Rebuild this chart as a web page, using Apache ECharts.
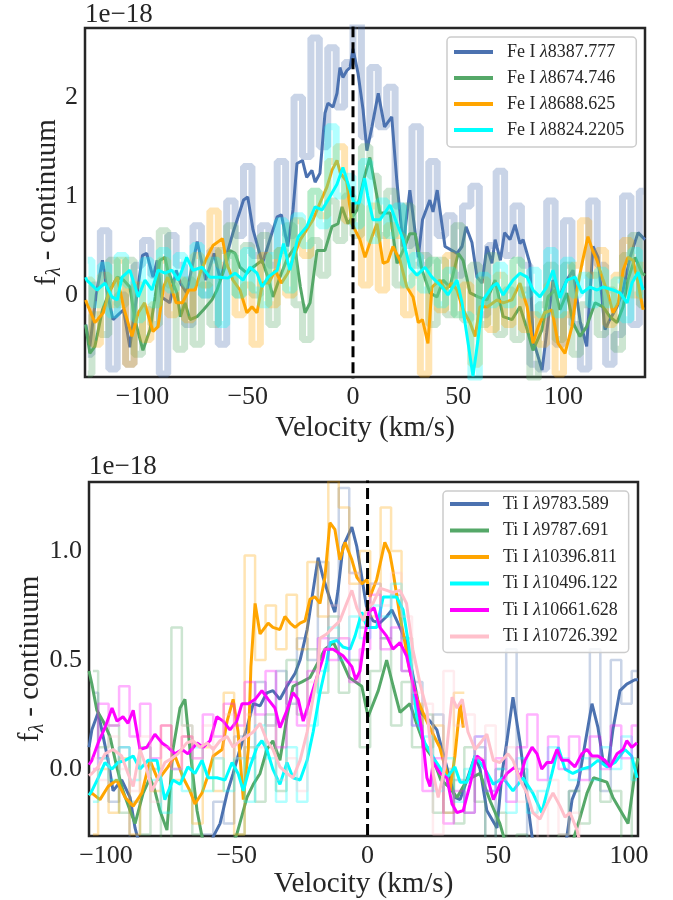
<!DOCTYPE html>
<html><head><meta charset="utf-8">
<script src="https://cdn.jsdelivr.net/npm/echarts@6/dist/echarts.min.js"></script>
<style>html,body{margin:0;padding:0;background:#fff}#c{width:673px;height:900px}</style>
</head><body><div id="c"></div>
<script>
// ---------- TOP PANEL (Fe I) ----------
const topNames = ['Fe I λ8387.777','Fe I λ8674.746','Fe I λ8688.625','Fe I λ8824.2205'];
const topColors = ['#4C72B0','#55A868','#FFA500','#00FFFF'];
const topXTicks = [-100,-50,0,50,100];
const topYTicks = [0,1,2];
const topRawV = [-126,-122,-118,-114,-110,-106,-102,-98,-94,-90,-86,-82,-78,-74,-70,-66,-62,-58,-54,-50,-46,-42,-38,-34,-30,-26,-22,-18,-14,-10,-6,-2,2,6,10,14,18,22,26,30,34,38,42,46,50,54,58,62,66,70,74,78,82,86,90,94,98,102,106,110,114,118,122,126,130,134,138];
const feBlueRaw = [-0.6,0.1,0.65,-0.75,0.0,-0.7,0.3,0.55,0.2,-0.8,0.6,0.3,-0.3,0.7,0.0,0.45,-0.5,0.95,0.6,1.3,0.4,0.7,0.3,1.35,0.6,2.0,1.4,2.6,1.5,2.5,1.9,2.35,2.75,1.6,2.3,1.7,2.1,0.9,0.5,1.7,0.3,1.35,0.6,0.8,0.2,0.9,1.1,-0.2,0.5,1.25,0.4,0.9,0.3,-0.7,-0.75,0.95,-0.5,0.75,-0.3,-0.75,0.95,0.3,-0.7,-0.4,1.0,-0.3,1.05];
const feGreenRaw = [-0.8,-0.2,-0.4,0.35,-0.1,0.35,-0.6,-0.15,-0.3,0.65,0.1,-0.55,0.15,-0.5,0.1,-0.3,0.45,0.7,0.0,0.5,0.0,0.6,-0.3,0.45,0.7,-0.1,-0.45,0.55,0.2,0.95,0.55,1.0,0.6,1.5,1.2,0.6,1.05,0.1,0.9,0.3,0.4,-0.3,0.35,-0.2,0.7,-0.25,0.3,-0.3,0.4,-0.4,0.05,-0.45,0.05,-0.85,-0.1,0.3,-0.45,0.3,-0.6,-0.1,0.2,-0.4,0.05,-0.55,0.4,0.6,-0.1];
const feOrangeRaw = [0.15,-0.5,0.2,-0.1,0.35,-0.7,0.1,-0.45,-0.1,0.35,-0.2,0.15,-0.25,0.4,0.1,0.85,0.3,0.4,-0.2,0.1,-0.5,0.4,-0.1,0.45,0.0,0.75,0.4,1.05,0.8,1.35,1.5,0.75,0.9,0.1,0.9,0.05,0.7,0.6,-0.2,0.2,-0.8,0.35,-0.15,0.4,-0.2,0.1,-0.7,0.15,-0.35,0.2,-0.3,0.35,-0.35,-0.2,-0.5,0.1,-0.8,-0.2,0.3,0.75,0.2,0.45,-0.3,0.2,0.55,0.0,0.3];
const feCyanRaw = [0.35,-0.1,0.3,-0.2,0.4,0.1,-0.25,0.35,-0.1,0.45,0.05,0.4,0.1,0.5,0.0,0.35,-0.3,0.4,0.0,0.45,0.05,-0.1,0.4,0.75,0.05,0.8,0.5,1.05,0.7,1.7,1.0,1.2,0.7,1.35,0.55,0.95,0.6,0.9,0.1,0.4,0.05,0.35,-0.1,0.25,-0.2,-0.2,-0.85,0.2,-0.1,0.3,-0.1,0.35,0.0,0.25,-0.2,0.45,-0.2,0.35,0.0,0.2,-0.1,0.25,-0.1,0.15,-0.25,0.45,0.0];
const feBlueSmooth = [[-127,-0.3],[-125,-0.52],[-122,0.0],[-119,0.35],[-116.5,0.0],[-114,-0.25],[-111.5,-0.2],[-109,-0.15],[-106,-0.53],[-103,-0.05],[-100,0.4],[-98,0.42],[-95,0.18],[-93,0.35],[-91,-0.02],[-87,-0.08],[-84,0.25],[-82,0.12],[-79,0.02],[-74,0.54],[-70,0.15],[-66,0.42],[-63,0.15],[-59,0.48],[-57,0.63],[-52,0.96],[-50,0.99],[-47.5,0.66],[-43,0.32],[-39.5,0.56],[-36,0.79],[-34,0.81],[-31,0.49],[-28.5,0.86],[-26.6,1.33],[-24,1.36],[-22,1.19],[-19.5,1.26],[-18,1.14],[-15.7,1.23],[-13.3,1.84],[-11.9,1.94],[-9.5,1.9],[-7.6,2.04],[-6.2,2.3],[-4.8,2.2],[-2.9,2.27],[-1.4,2.3],[0,2.49],[2.4,2.24],[4.8,1.87],[6.6,1.46],[9,1.7],[12,2.04],[15,1.7],[18.4,1.8],[20.8,1.16],[23.8,0.49],[27,1.06],[31,0.38],[33,0.76],[36.5,0.96],[38,0.84],[40,1.06],[43.7,0.49],[49.4,0.42],[51.8,0.49],[53.7,0.69],[56.5,0.53],[58.9,0.18],[61.3,0.12],[63.6,0.49],[66,0.32],[67.5,0.56],[70,0.35],[72,0.63],[74.6,0.56],[77,0.71],[79.3,0.52],[80.8,0.56],[84,0.32],[85.5,-0.45],[89.8,-0.76],[92,-0.38],[95,0.15],[98,-0.02],[101.6,0.15],[104.5,0.25],[108,-0.28],[111,-0.52],[114,0.49],[116.4,0.38],[119.7,-0.35],[122,-0.25],[125.4,-0.12],[128.3,0.05],[131.6,0.38],[135.4,0.63],[138.7,0.56]];
const feGreenSmooth = [[-127,-0.3],[-125,-0.59],[-122.6,-0.52],[-119,-0.15],[-115.4,0.05],[-112,0.18],[-109,0.15],[-106,0.08],[-103.6,-0.25],[-99.8,-0.56],[-96.4,-0.35],[-94,-0.02],[-91.7,0.35],[-89.3,0.38],[-88,0.25],[-83.6,0.02],[-82,-0.22],[-79.8,-0.08],[-77.4,-0.25],[-74.1,-0.22],[-71,-0.15],[-67,-0.05],[-64.6,0.05],[-61.8,0.22],[-58.4,0.45],[-56,0.42],[-53.7,0.28],[-50.4,0.22],[-47.5,0.28],[-43.2,0.35],[-40.4,0.18],[-38,-0.02],[-34.7,0.18],[-31,0.38],[-27.6,0.48],[-25,0.08],[-22.8,-0.18],[-20.4,-0.08],[-17.1,0.45],[-13.3,0.45],[-10,0.69],[-7.1,0.72],[-5.2,0.89],[-2.4,0.72],[1.9,0.86],[3.3,1.0],[5.5,1.2],[8,1.39],[10,1.16],[12.8,0.83],[17.6,0.83],[20.9,0.32],[23.8,0.45],[27,0.62],[29.5,0.62],[32.8,0.25],[36.6,0.02],[39.9,-0.02],[42.8,0.15],[46,0.08],[50,0.42],[52.3,0.35],[55.6,0.02],[59.4,-0.02],[63.6,-0.05],[67.5,0.15],[71.3,-0.22],[75.5,-0.25],[79.3,-0.12],[82.7,-0.35],[85.5,-0.56],[89.8,-0.35],[92.6,-0.02],[96,0.05],[98.3,-0.15],[101.6,0.02],[104.5,-0.28],[107.8,-0.42],[111,-0.32],[115,-0.08],[118.8,-0.12],[122,-0.22],[125.4,-0.28],[128.3,-0.12],[130.6,0.15],[134,0.38],[137.3,0.22],[138.7,0.2]];
const feOrangeSmooth = [[-127,-0.05],[-126.5,-0.08],[-122.6,-0.28],[-118.6,-0.18],[-116,0.02],[-112,0.18],[-109,-0.12],[-105,-0.42],[-102,-0.18],[-99,-0.08],[-95,-0.37],[-92.6,-0.32],[-90,0.08],[-88,0.18],[-84,-0.08],[-81,-0.08],[-78,0.05],[-75,0.05],[-72.6,0.22],[-69.4,0.38],[-66.5,0.5],[-62,0.57],[-60,0.32],[-57,0.15],[-53.7,0.05],[-50.4,-0.18],[-48,-0.12],[-45.6,-0.18],[-43,0.12],[-40,0.12],[-37,0.25],[-34,0.12],[-31,0.22],[-27.6,0.42],[-25,0.56],[-22,0.66],[-19,0.76],[-15.7,0.93],[-12.4,1.09],[-10,1.26],[-7.6,1.36],[-6,1.23],[-3,1.15],[-0.5,0.72],[3.3,0.56],[5.7,0.38],[9,0.59],[11.4,0.72],[14.3,0.32],[16.6,0.34],[19,0.49],[22.3,0.35],[25.6,0.08],[28.5,-0.02],[31,-0.28],[33,-0.25],[35.6,-0.49],[37.5,0.08],[41.3,0.15],[43.7,0.05],[47,0.12],[49.4,0.05],[52.3,-0.15],[55.6,-0.28],[58,-0.42],[60.3,-0.12],[64,-0.12],[68.4,-0.05],[71.3,-0.08],[75.5,-0.05],[79.3,0.12],[82.7,-0.12],[85.5,-0.49],[88,-0.32],[91,-0.18],[94.5,-0.15],[97.4,-0.49],[100.7,-0.59],[104,-0.32],[106.4,0.05],[108.8,0.32],[111.6,0.59],[114,0.44],[115.9,0.35],[118.8,0.15],[121,0.02],[123.5,-0.18],[126,-0.08],[128.3,0.25],[130.6,0.38],[133,0.35],[135.4,0.12],[137.8,-0.15]];
const feCyanSmooth = [[-127,0.18],[-126.5,0.15],[-121.6,0.05],[-117.8,0.12],[-114.5,-0.02],[-112,-0.05],[-109.7,0.18],[-106,0.25],[-102,-0.02],[-98.8,0.15],[-95.5,0.05],[-92.6,0.25],[-89.3,0.22],[-86,0.25],[-83,0.15],[-79,0.38],[-76,0.25],[-71.7,0.28],[-68,0.18],[-63,0.18],[-59.4,0.17],[-56,0.22],[-52.2,0.15],[-49,0.28],[-45.6,0.22],[-43.2,0.08],[-40.4,0.18],[-36,0.25],[-33,0.52],[-30,0.25],[-26,0.59],[-22,0.69],[-18,0.89],[-14.7,0.86],[-11.9,0.96],[-7.6,1.12],[-4.8,1.29],[-1.4,1.06],[0.5,0.93],[3,0.93],[5.5,1.18],[7,1.0],[9.5,0.76],[12.8,0.76],[17.6,0.91],[20.9,0.72],[23.8,0.56],[27,0.28],[30.4,0.2],[34.2,0.28],[37.5,0.18],[42.3,0.08],[45.1,0.0],[49.4,0.15],[51.8,-0.08],[54.2,-0.42],[57,-0.82],[59.4,-0.45],[61.8,-0.05],[66,0.08],[68.4,0.12],[71.3,0.0],[76,0.15],[79.3,0.22],[82.7,0.18],[85.5,0.05],[88.8,-0.02],[92,0.08],[95,0.25],[98.3,-0.03],[101.6,0.15],[105.5,0.18],[108.8,0.02],[112.6,0.08],[115.9,0.05],[118.8,0.08],[123.5,0.05],[126.8,0.02],[130.2,-0.08],[132.5,0.12],[135.4,0.23],[137.8,0.05]];

// ---------- BOTTOM PANEL (Ti I) ----------
const botNames = ['Ti I λ9783.589','Ti I λ9787.691','Ti I λ10396.811','Ti I λ10496.122','Ti I λ10661.628','Ti I λ10726.392'];
const botColors = ['#4C72B0','#55A868','#FFA500','#00FFFF','#FF00FF','#FFC0CB'];
const botXTicks = [-100,-50,0,50,100];
const botYTicks = [0,0.5,1.0];
const botRawV = [-105,-101,-97,-93,-89,-85,-81,-77,-73,-69,-65,-61,-57,-53,-49,-45,-41,-37,-33,-29,-25,-21,-17,-13,-9,-5,-1,3,7,11,15,19,23,27,31,35,39,43,47,51,55,59,63,67,71,75,79,83,87,91,95,99,103];
const tiBlueRaw = [0.35,0.05,-0.15,0.1,-0.35,-0.45,-0.6,-0.4,-0.5,-0.6,-0.45,-0.3,-0.15,-0.25,0.15,0.05,0.4,0.2,0.45,0.3,0.6,0.5,0.95,0.6,1.29,0.9,0.65,0.85,0.6,0.8,0.45,0.4,0.1,0.25,-0.2,-0.05,-0.2,0.1,-0.35,0.0,0.55,0.0,-0.4,-0.55,-0.6,-0.4,-0.1,0.0,0.55,-0.1,0.5,0.3,0.45];
const tiGreenRaw = [0.45,0.1,0.2,-0.2,-0.15,-0.3,0.0,-0.35,0.65,0.2,-0.3,-0.5,-0.4,-0.6,-0.3,0.1,-0.15,0.25,-0.1,0.5,0.25,0.55,0.35,0.7,0.35,0.5,0.1,0.45,0.6,0.2,0.4,0.1,0.25,-0.2,0.0,-0.25,0.1,-0.15,-0.35,-0.2,-0.5,-0.3,-0.6,-0.4,-0.45,-0.3,-0.1,-0.25,0.05,-0.15,-0.1,-0.35,0.05];
const tiOrangeRaw = [-0.3,0.0,-0.2,0.05,-0.3,0.1,-0.1,0.2,-0.05,0.15,-0.25,0.1,-0.1,0.35,-0.3,0.98,0.5,0.75,0.55,0.8,0.55,0.95,0.7,1.32,1.2,0.85,1.0,0.7,1.2,1.0,0.6,0.3,0.1,0.2,-0.2,0.35,null,null,null,null,null,null,null,null,null,null,null,null,null,null,null,null,null];
const tiCyanRaw = [-0.15,0.05,-0.05,0.1,-0.05,0.1,-0.05,-0.2,0.0,-0.1,0.1,-0.1,0.05,-0.1,0.05,-0.15,0.2,0.05,-0.15,0.1,-0.15,0.2,0.45,0.65,0.5,0.7,0.6,0.75,0.7,0.85,0.6,0.2,0.15,-0.1,0.05,-0.15,0.0,0.15,-0.1,0.0,-0.2,0.05,-0.2,-0.1,0.1,0.05,-0.05,0.05,-0.05,0.1,0.0,0.15,-0.05];
const tiMagentaRaw = [0.0,0.3,0.2,0.38,0.15,0.3,0.05,0.2,0.0,0.15,0.05,0.25,0.15,0.3,0.2,0.4,0.25,0.45,0.1,0.4,0.2,0.45,0.6,0.5,0.6,0.4,0.55,0.8,0.55,0.65,0.45,0.2,-0.1,0.05,-0.25,-0.1,-0.2,0.15,-0.1,0.05,-0.15,0.1,0.25,-0.05,0.15,0.0,0.15,-0.05,0.15,0.0,0.2,0.05,0.2];
const tiPinkRaw = [0.05,-0.05,0.15,0.0,-0.1,0.15,-0.15,0.1,0.0,0.2,0.05,0.2,0.05,0.25,0.05,0.25,0.1,0.2,-0.05,0.05,-0.1,0.4,0.55,0.75,0.6,0.9,0.7,0.85,0.75,0.9,0.7,0.35,0.3,-0.3,0.45,0.2,0.25,0.05,0.2,-0.05,0.1,-0.15,-0.1,-0.35,-0.05,-0.3,-0.2,-0.45,null,null,null,null,null];
const tiBlueSmooth = [[-106.5,0.1],[-105.4,0.18],[-103,0.26],[-101.1,0.15],[-99.2,0.04],[-97.3,-0.1],[-94,-0.05],[-90.8,-0.13],[-88.9,-0.27],[-86,-0.4],[-80,-0.45],[-72,-0.5],[-65,-0.45],[-61,-0.38],[-59,-0.31],[-56.4,-0.25],[-53.7,-0.11],[-51.4,-0.02],[-48.8,0.09],[-46.1,0.19],[-43.7,0.3],[-41.1,0.29],[-38.5,0.35],[-36.2,0.36],[-33.5,0.32],[-30.8,0.38],[-27.7,0.44],[-25.8,0.5],[-23.1,0.64],[-20.8,0.82],[-18.9,0.97],[-17,0.88],[-14.4,0.78],[-12.5,0.72],[-11.3,0.82],[-9.4,1.02],[-6,1.11],[-4.1,1.02],[-2.2,0.88],[-0.2,0.73],[2.1,0.68],[4.7,0.67],[7.3,0.7],[9.3,0.73],[12.4,0.65],[14.9,0.58],[17.5,0.42],[20.1,0.26],[23.9,0.22],[26.5,0.18],[29.6,0.04],[33.4,-0.13],[35.4,-0.14],[38,-0.05],[41.1,0.06],[43,0.0],[45.6,-0.19],[49.5,-0.27],[51.4,-0.02],[53.3,0.13],[55.6,0.33],[58.3,0.12],[60.9,-0.13],[62.9,-0.31],[66,-0.45],[70,-0.5],[74,-0.4],[76.2,-0.31],[78.2,-0.14],[80.5,-0.07],[83.2,0.12],[85.8,0.3],[88.1,0.19],[90,0.04],[91.9,0.01],[93.8,0.18],[96.5,0.36],[99.1,0.39],[102.2,0.41],[103.4,0.41]];
const tiGreenSmooth = [[-106.5,0.45],[-105.4,0.39],[-103.5,0.27],[-101.1,0.22],[-98.5,0.15],[-95.9,0.01],[-93.5,-0.1],[-90.8,-0.19],[-88.9,-0.25],[-85.8,-0.11],[-83.2,-0.04],[-81.3,-0.1],[-79.4,-0.19],[-76.7,-0.28],[-74.4,0.09],[-71.7,0.28],[-69.8,0.32],[-67.9,0.09],[-65.2,-0.19],[-63.3,-0.31],[-60,-0.42],[-55,-0.45],[-50,-0.3],[-46.1,-0.13],[-43.7,-0.07],[-41.1,-0.02],[-38.5,0.09],[-36.2,0.13],[-33.5,0.04],[-30.8,0.24],[-28.5,0.38],[-25.1,0.4],[-22,0.42],[-18.9,0.49],[-16.3,0.55],[-13,0.58],[-10,0.5],[-7,0.42],[-2.2,0.38],[0.2,0.24],[4.1,0.36],[7.3,0.5],[9.8,0.38],[12.4,0.26],[16.2,0.3],[19,0.2],[22,0.1],[25,0.05],[28,-0.05],[31,-0.08],[34.2,-0.13],[38,-0.05],[43,-0.02],[47,-0.15],[50.6,-0.25],[53,-0.35],[58,-0.5],[65,-0.5],[72,-0.45],[78,-0.35],[81.3,-0.22],[83.9,-0.11],[86.4,-0.04],[89,-0.05],[91.5,-0.06],[93.8,-0.13],[97.2,-0.2],[99.6,-0.25],[102.2,-0.02],[103.4,0.05]];
const tiOrangeSmooth = [[-106.5,-0.12],[-105.4,-0.11],[-102.3,-0.14],[-99.2,-0.08],[-95.9,-0.05],[-92.7,-0.13],[-89.6,-0.17],[-86.3,-0.11],[-83.2,0.04],[-80.1,-0.05],[-76.3,0.01],[-73.6,0.06],[-70.5,-0.04],[-67.9,-0.1],[-66,-0.16],[-63.3,-0.11],[-61.3,-0.04],[-59,0.06],[-55.6,0.09],[-53.7,0.22],[-51.4,0.32],[-49.5,0.17],[-47.5,-0.14],[-45.6,0.09],[-44.6,0.47],[-43,0.76],[-41.1,0.62],[-38,0.67],[-36.2,0.65],[-33.5,0.64],[-31.6,0.7],[-29.6,0.67],[-27.7,0.65],[-25.8,0.67],[-23.9,0.68],[-22,0.78],[-20.1,0.79],[-18.2,0.76],[-16.3,0.88],[-14.4,1.13],[-12.5,1.1],[-10.6,0.96],[-8.6,1.04],[-6,0.96],[-4.1,0.88],[-2.2,0.85],[-0.2,0.87],[0.9,0.79],[3.5,0.87],[6.6,1.04],[8.5,0.99],[9.7,0.91],[12.4,0.7],[14.3,0.58],[16.2,0.45],[19,0.32],[21.9,0.24],[24.6,0.17],[27.6,0.1],[30.3,-0.02],[31.5,-0.1],[33.4,0.06],[35.4,0.3],[36.6,0.19]];
const tiCyanSmooth = [[-106.5,-0.12],[-105.4,-0.1],[-103,-0.04],[-100.4,0.03],[-97.7,0.0],[-95.4,0.03],[-92.7,0.04],[-89.6,0.06],[-87,0.0],[-83.9,0.04],[-80.5,0.04],[-77.5,-0.14],[-74.4,-0.05],[-71.7,-0.07],[-68.7,0.01],[-66,-0.02],[-63.3,0.04],[-61,-0.04],[-57.6,-0.04],[-54.5,-0.05],[-51.8,0.03],[-49.5,-0.02],[-47.5,-0.1],[-45,0.01],[-42.3,0.1],[-40.4,0.13],[-38.5,0.09],[-36.2,0.0],[-33.5,-0.07],[-30.8,0.03],[-28.5,-0.04],[-25.8,-0.05],[-23.1,0.04],[-20.8,0.17],[-18.2,0.35],[-15.6,0.49],[-14.4,0.58],[-11.7,0.59],[-9.4,0.56],[-6.7,0.55],[-4.8,0.61],[-2.2,0.72],[-0.2,0.65],[1.6,0.65],[3.5,0.65],[6,0.79],[8.5,0.79],[11.1,0.79],[13.6,0.73],[15.6,0.58],[17.5,0.38],[18.8,0.24],[21.9,0.12],[25.8,0.04],[30.3,-0.04],[33.4,0.01],[35.4,-0.06],[38,-0.06],[41.1,0.06],[44.9,0.0],[48.1,-0.07],[51.8,-0.04],[55.6,-0.1],[59.4,-0.04],[63.2,-0.11],[66.6,-0.2],[70.5,-0.02],[72.9,0.1],[75.5,0.0],[78.5,-0.02],[81.9,0.0],[85,0.01],[88.1,0.04],[91.5,0.01],[94.6,0.03],[98.4,0.09],[101,0.06],[103,-0.04]];
const tiMagentaSmooth = [[-106.5,0.02],[-105.4,0.04],[-103,0.12],[-100.4,0.19],[-97.7,0.28],[-95.8,0.22],[-93.5,0.24],[-91.6,0.21],[-89.6,0.27],[-87,0.09],[-84.4,0.1],[-81.3,0.16],[-78.6,0.12],[-76.3,0.1],[-73.6,0.07],[-70.9,0.09],[-68.7,0.07],[-65.2,0.12],[-62.9,0.1],[-60.2,0.13],[-57.6,0.24],[-55.2,0.22],[-52.6,0.18],[-50,0.22],[-48,0.3],[-45.6,0.3],[-43,0.32],[-40.4,0.36],[-38,0.32],[-35.4,0.28],[-33.5,0.19],[-30.8,0.27],[-28.5,0.35],[-26.5,0.32],[-24.6,0.22],[-22,0.32],[-19.4,0.42],[-17,0.51],[-16.3,0.55],[-13.2,0.55],[-9.4,0.52],[-6,0.47],[-4.5,0.41],[-2.9,0.45],[-1.2,0.6],[0.5,0.72],[2.5,0.74],[4.7,0.65],[7.3,0.61],[9.7,0.55],[12.4,0.58],[14.9,0.52],[16.2,0.45],[18.8,0.32],[20.8,0.17],[22.7,-0.04],[23.9,-0.08],[25.1,0.03],[27.8,-0.02],[30.3,-0.04],[32.3,-0.16],[34.2,-0.2],[36.6,-0.19],[39.2,-0.07],[41.8,0.06],[44.1,0.04],[46.1,-0.05],[48.1,-0.14],[50.6,-0.07],[53.3,-0.02],[56.4,0.01],[58.3,-0.04],[60.2,0.04],[62.9,0.1],[64.8,0.07],[66.6,0.0],[68.6,0.03],[70.5,0.03],[72.4,0.09],[74.3,0.04],[76.7,0.04],[79.3,0.01],[81.9,0.07],[83.9,0.09],[85.8,0.06],[88.1,0.06],[90.8,0.04],[92.7,0.01],[95.4,0.07],[97.7,0.09],[99.1,0.13],[101,0.1],[103,0.12]];
const tiPinkSmooth = [[-106.5,-0.03],[-105.4,-0.02],[-103,0.01],[-100.4,0.07],[-97.3,0.09],[-94,0.06],[-91.6,-0.02],[-89.6,-0.08],[-87,0.09],[-84.4,0.0],[-82.4,-0.1],[-80.1,-0.04],[-77.5,0.03],[-74.8,0.05],[-72.5,0.07],[-69.1,0.12],[-66.8,0.13],[-64,0.1],[-61.3,0.12],[-59,0.09],[-56.4,0.13],[-53.7,0.15],[-51.4,0.1],[-48.8,0.13],[-46.1,0.15],[-43.7,0.17],[-41.1,0.21],[-38.5,0.13],[-36.2,0.09],[-33.5,0.01],[-30.8,-0.02],[-28.5,-0.04],[-25.8,0.04],[-23.1,0.17],[-20.8,0.33],[-18.9,0.45],[-18.2,0.6],[-15.6,0.62],[-13.2,0.65],[-10.6,0.68],[-8,0.76],[-6,0.82],[-4.1,0.74],[-1.6,0.68],[-0.2,0.74],[2.1,0.76],[4.7,0.83],[7.3,0.82],[9.7,0.81],[12.4,0.82],[14.9,0.76],[17.3,0.55],[20.1,0.39],[22.7,0.27],[25.1,-0.02],[27,-0.13],[29.6,0.01],[32.3,0.33],[34.2,0.28],[36.2,0.32],[38.4,0.17],[41.1,0.09],[43.8,0.13],[45.6,0.16],[48.1,0.04],[50.6,0.03],[53.7,0.07],[55.6,0.04],[58.3,-0.05],[60.9,-0.11],[63.2,-0.2],[65.9,-0.23],[68.6,-0.16],[70.9,-0.11],[73.6,-0.17],[75.5,-0.22],[77.4,-0.2],[80.1,-0.28],[82,-0.38]];

const topRaw = [feBlueRaw, feGreenRaw, feOrangeRaw, feCyanRaw];
const topSmooth = [feBlueSmooth, feGreenSmooth, feOrangeSmooth, feCyanSmooth];
const botRaw = [tiBlueRaw, tiGreenRaw, tiOrangeRaw, tiCyanRaw, tiMagentaRaw, tiPinkRaw];
const botSmooth = [tiBlueSmooth, tiGreenSmooth, tiOrangeSmooth, tiCyanSmooth, tiMagentaSmooth, tiPinkSmooth];

const FF = '"Liberation Serif", "Times New Roman", serif';
const INK = '#262626';
const minusFmt = v => String(v).replace('-', '\u2212');

const series = [];
function addPanel(gi, names, colors, rawV, raws, smooths, rawW) {
  names.forEach((nm, i) => {
    series.push({
      type: 'line', name: nm + ' raw', xAxisIndex: gi, yAxisIndex: gi,
      data: rawV.map((v, k) => [v, raws[i][k]]), step: 'middle', showSymbol: false, symbol: 'none',
      silent: true, color: colors[i],
      lineStyle: { color: colors[i], width: rawW, opacity: 0.3 }
    });
    series.push({
      type: 'line', name: nm, xAxisIndex: gi, yAxisIndex: gi,
      data: smooths[i], showSymbol: false, symbol: 'none', silent: true, color: colors[i],
      lineStyle: { color: colors[i], width: 3 }
    });
  });
  series.push({
    type: 'line', name: 'zero' + gi, xAxisIndex: gi, yAxisIndex: gi,
    data: [[0, -5], [0, 5]], showSymbol: false, symbol: 'none', silent: true,
    lineStyle: { color: '#000', width: 3, type: [11, 5] }
  });
}
addPanel(0, topNames, topColors, topRawV, topRaw, topSmooth, 7);
addPanel(1, botNames, botColors, botRawV, botRaw, botSmooth, 2.5);

function xAx(gi, min, max, ticks, nameGap) {
  return {
    type: 'value', gridIndex: gi, min, max,
    axisLine: { show: false }, axisTick: { show: false }, splitLine: { show: false },
    axisLabel: { customValues: ticks, formatter: minusFmt, fontSize: 26, fontFamily: FF, color: INK, margin: 7 },
    name: 'Velocity (km/s)', nameLocation: 'middle', nameGap, nameMoveOverlap: false,
    nameTextStyle: { fontSize: 29, fontFamily: FF, color: INK }
  };
}
function yAx(gi, min, max, ticks, fmt, nameGap) {
  return {
    type: 'value', gridIndex: gi, min, max,
    axisLine: { show: false }, axisTick: { show: false }, splitLine: { show: false },
    axisLabel: { customValues: ticks, formatter: fmt, fontSize: 26, fontFamily: FF, color: INK, margin: 7 },
    name: '{a|f}{s|λ}{a| - continuum}', nameLocation: 'middle', nameGap, nameMoveOverlap: false,
    nameTextStyle: {
      color: INK, fontFamily: FF,
      rich: {
        a: { fontSize: 29, fontFamily: FF, color: INK, lineHeight: 40, verticalAlign: 'middle' },
        s: { fontSize: 20, fontFamily: FF, color: INK, fontStyle: 'italic', lineHeight: 40, verticalAlign: 'bottom', padding: [0, 0, 2, 0] }
      }
    }
  };
}
function legendFor(names, left, top, pad, gap) {
  return {
    data: names, orient: 'vertical', left, top, padding: pad, itemGap: gap,
    itemWidth: 39, itemHeight: 4, icon: 'rect', selectedMode: false,
    backgroundColor: 'rgba(255,255,255,0.8)', borderColor: '#cccccc', borderWidth: 1.5, borderRadius: 4,
    formatter: n => { const k = n.indexOf('λ'); return '{n|' + n.slice(0, k) + '}{l|λ}{n|' + n.slice(k + 1) + '}'; },
    textStyle: {
      color: INK, fontFamily: FF, fontSize: 18, lineHeight: 20, padding: [0, 0, 0, 9],
      rich: { n: { fontFamily: FF, fontSize: 18, color: INK }, l: { fontFamily: FF, fontSize: 18, color: INK, fontStyle: 'italic' } }
    }
  };
}

const chart = echarts.init(document.getElementById('c'), null, { renderer: 'canvas' });
chart.setOption({
  animation: false,
  backgroundColor: '#ffffff',
  grid: [
    { left: 85, top: 28, width: 560, height: 349, show: true, borderColor: INK, borderWidth: 2.5, backgroundColor: 'transparent', containLabel: false, outerBoundsMode: 'none' },
    { left: 89, top: 482, width: 549, height: 354, show: true, borderColor: INK, borderWidth: 2.5, backgroundColor: 'transparent', containLabel: false, outerBoundsMode: 'none' }
  ],
  xAxis: [xAx(0, -127.3, 138.7, topXTicks, 37), xAx(1, -106.5, 103.4, botXTicks, 34)],
  yAxis: [yAx(0, -0.83, 2.70, topYTicks, v => minusFmt(v), 18), yAx(1, -0.307, 1.317, botYTicks, v => v.toFixed(1), 39)],
  legend: [
    legendFor(topNames, 447, 37, [5, 12, 7, 7], 6),
    legendFor(botNames, 443, 491, [3, 11, 6, 7], 6.5)
  ],
  graphic: [
    { type: 'text', left: 85, top: 1, style: { text: '1e\u221218', font: '27px ' + FF, fill: INK } },
    { type: 'text', left: 89, top: 453, style: { text: '1e\u221218', font: '27px ' + FF, fill: INK } }
  ],
  series
});
</script></body></html>
